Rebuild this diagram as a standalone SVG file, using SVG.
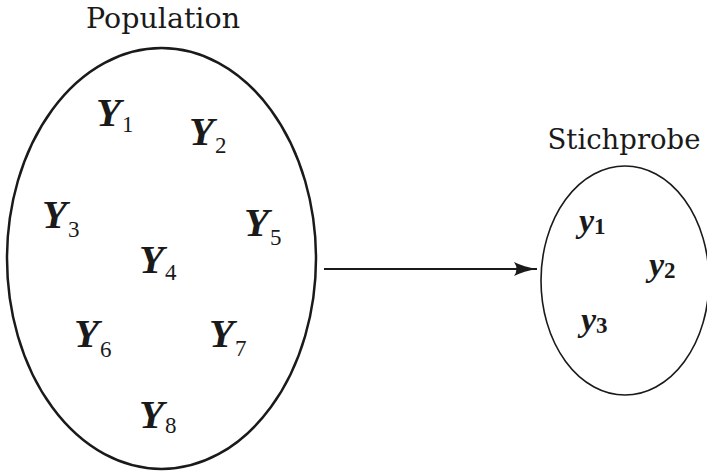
<svg xmlns="http://www.w3.org/2000/svg" width="707" height="473" viewBox="0 0 707 473">
<style>
.lbl{font-family:"DejaVu Serif","Liberation Serif",serif;fill:#1a1a1a}
.Y{font-family:"Liberation Serif",serif;font-style:italic;font-weight:bold;font-size:41px;fill:#1a1a1a}
.s{font-style:normal;font-weight:normal;font-size:23px}
.y{font-family:"Liberation Serif",serif;font-style:italic;font-weight:bold;font-size:34px;fill:#1a1a1a}
.sb{font-style:normal;font-weight:bold;font-size:23px}
</style>
<defs>
<marker id="ah" markerWidth="24" markerHeight="16" refX="23" refY="8" orient="auto" markerUnits="userSpaceOnUse">
<path d="M0,1 Q10,6 23,8 Q10,10 0,15 Q5,8 0,1 Z" fill="#1a1a1a"/>
</marker>
</defs>
<rect width="707" height="473" fill="#fff"/>
<g id="population">
<ellipse cx="161.5" cy="258.5" rx="154.5" ry="210.5" fill="none" stroke="#1a1a1a" stroke-width="2.5"/>
<text class="lbl" x="163" y="28" font-size="28.5" text-anchor="middle">Population</text>
<text class="Y" x="96" y="126">Y<tspan class="s" dx="1" dy="6">1</tspan></text>
<text class="Y" x="189" y="145">Y<tspan class="s" dx="1" dy="8">2</tspan></text>
<text class="Y" x="42" y="228">Y<tspan class="s" dx="1" dy="9">3</tspan></text>
<text class="Y" x="139" y="273">Y<tspan class="s" dx="1" dy="7">4</tspan></text>
<text class="Y" x="244" y="236">Y<tspan class="s" dx="1" dy="9">5</tspan></text>
<text class="Y" x="74" y="347">Y<tspan class="s" dx="1" dy="10">6</tspan></text>
<text class="Y" x="209" y="347">Y<tspan class="s" dx="1" dy="9">7</tspan></text>
<text class="Y" x="139" y="428">Y<tspan class="s" dx="1" dy="5">8</tspan></text>
</g>
<g id="stichprobe">
<ellipse cx="625" cy="280.5" rx="84" ry="114.5" fill="none" stroke="#1a1a1a" stroke-width="1.6"/>
<text class="lbl" x="624" y="149" font-size="27.5" text-anchor="middle">Stichprobe</text>
<text class="y" x="579" y="232">y<tspan class="sb" dx="0" dy="2">1</tspan></text>
<text class="y" x="649" y="276">y<tspan class="sb" dx="0" dy="2">2</tspan></text>
<text class="y" x="581" y="331">y<tspan class="sb" dx="0" dy="2">3</tspan></text>
</g>
<g id="connectors">
<line x1="324" y1="269" x2="537" y2="269" stroke="#1a1a1a" stroke-width="2" marker-end="url(#ah)"/>
</g>
</svg>
